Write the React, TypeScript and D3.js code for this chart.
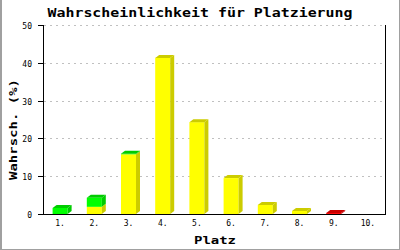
import React from "react";
import * as d3 from "d3";

const categories = ["1.", "2.", "3.", "4.", "5.", "6.", "7.", "8.", "9.", "10."];
const yellowVals = [0, 1.9, 15.8, 41.3, 24.3, 9.5, 2.4, 0.8, 0, 0];
const greenVals = [1.6, 2.4, 0.15, 0, 0, 0, 0, 0, 0, 0];
const redVals = [0, 0, 0, 0, 0, 0, 0, 0, 0.25, 0];
const yTicks = [0, 10, 20, 30, 40, 50];

const W = 400, H = 250;
const left = 43, right = 385, top = 25, bottom = 214;
const DX = 4, DY = 3, BW = 15;

const series = [
  { vals: yellowVals, front: "#ffff00", dark: "#cccc00" },
  { vals: greenVals, front: "#00ff00", dark: "#00cc00" },
  { vals: redVals, front: "#ff0000", dark: "#cc0000" },
];

export default function App() {
  const x = d3.scaleBand<string>().domain(categories).range([left, right]);
  const y = d3.scaleLinear().domain([0, 50]).range([bottom, top]);
  const mono = "'DejaVu Sans Mono', monospace";

  const bars: React.ReactNode[] = [];
  categories.forEach((c, i) => {
    const cx = (x(c) as number) + x.bandwidth() / 2;
    const x0 = cx - BW / 2;
    let acc = 0;
    let topColor: string | null = null;
    series.forEach((s, si) => {
      const v = s.vals[i];
      if (v <= 0) return;
      const yb = y(acc);
      const yt = y(acc + v);
      acc += v;
      topColor = s.dark;
      bars.push(
        <rect key={`f${i}-${si}`} x={x0} y={yt} width={BW} height={yb - yt} fill={s.front} />
      );
      bars.push(
        <polygon
          key={`s${i}-${si}`}
          points={`${x0 + BW},${yb} ${x0 + BW + DX},${yb - DY} ${x0 + BW + DX},${yt - DY} ${x0 + BW},${yt}`}
          fill={s.dark}
        />
      );
    });
    if (topColor) {
      const yt = y(acc);
      bars.push(
        <polygon
          key={`t${i}`}
          points={`${x0},${yt} ${x0 + DX},${yt - DY} ${x0 + BW + DX},${yt - DY} ${x0 + BW},${yt}`}
          fill={topColor}
        />
      );
    }
  });

  return (
    <svg
      width={W}
      height={H}
      style={{ position: "absolute", left: 0, top: 0, background: "#fff" }}
    >
      <rect x={0} y={0} width={W} height={H} fill="#ffffff" />
      {/* frame */}
      <line x1={1} y1={0} x2={1} y2={H} stroke="#a0a0a0" strokeWidth={2} />
      <line x1={0} y1={H - 0.5} x2={W} y2={H - 0.5} stroke="#a0a0a0" strokeWidth={1} />
      <line x1={W - 0.5} y1={0} x2={W - 0.5} y2={H} stroke="#a0a0a0" strokeWidth={1} />

      <text
        x={200}
        y={17}
        textAnchor="middle"
        fontFamily={mono}
        fontWeight="bold"
        fontSize={12}
        textLength={305}
        lengthAdjust="spacingAndGlyphs"
        fill="#000"
      >
        Wahrscheinlichkeit für Platzierung
      </text>

      {/* grid */}
      {yTicks.filter((t) => t > 0).map((t) => (
        <line
          key={`g${t}`}
          x1={left + 1}
          x2={right}
          y1={Math.round(y(t)) + 0.5}
          y2={Math.round(y(t)) + 0.5}
          stroke="#c0c0c0"
          strokeDasharray="2,4"
          shapeRendering="crispEdges"
        />
      ))}

      {bars}

      {/* axes */}
      <line x1={left + 0.5} x2={left + 0.5} y1={top} y2={bottom + 0.5} stroke="#000" shapeRendering="crispEdges" />
      <line x1={right + 0.5} x2={right + 0.5} y1={top} y2={bottom + 0.5} stroke="#000" shapeRendering="crispEdges" />
      <line x1={left} x2={right + 1} y1={bottom + 0.5} y2={bottom + 0.5} stroke="#000" shapeRendering="crispEdges" />

      {yTicks.map((t) => (
        <g key={`t${t}`}>
          <line
            x1={38}
            x2={left}
            y1={Math.round(y(t)) + 0.5}
            y2={Math.round(y(t)) + 0.5}
            stroke="#000"
            shapeRendering="crispEdges"
          />
          <text
            x={32}
            y={Math.round(y(t)) + 3.5}
            textAnchor="end"
            fontFamily={mono}
            fontSize={8}
            fill="#000"
          >
            {t}
          </text>
        </g>
      ))}

      {categories.map((c) => (
        <text
          key={`x${c}`}
          x={(x(c) as number) + x.bandwidth() / 2}
          y={226}
          textAnchor="middle"
          fontFamily={mono}
          fontSize={8}
          fill="#000"
        >
          {c}
        </text>
      ))}

      <text
        x={215}
        y={243.5}
        textAnchor="middle"
        fontFamily={mono}
        fontWeight="bold"
        fontSize={10}
        textLength={42}
        lengthAdjust="spacingAndGlyphs"
        fill="#000"
      >
        Platz
      </text>
      <text
        transform="translate(17,180) rotate(-90)"
        x={0}
        y={0}
        textAnchor="start"
        fontFamily={mono}
        fontWeight="bold"
        fontSize={10}
        textLength={101}
        lengthAdjust="spacingAndGlyphs"
        fill="#000"
      >
        Wahrsch. (%)
      </text>
    </svg>
  );
}
